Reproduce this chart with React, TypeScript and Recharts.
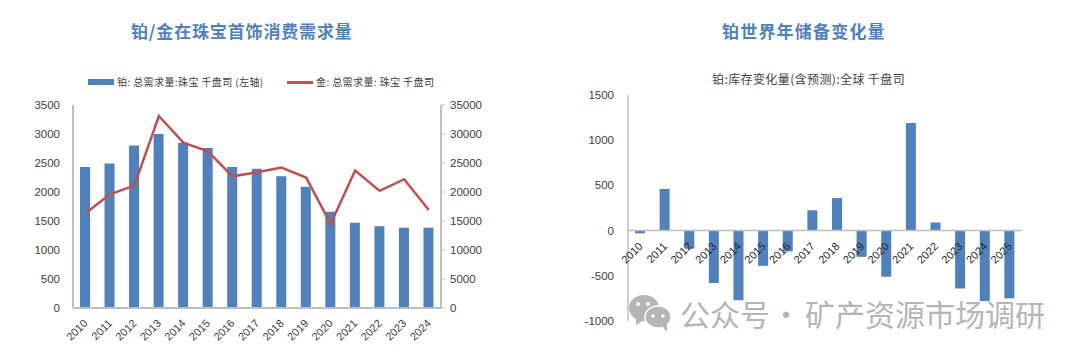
import { Bar, ComposedChart, Legend, Line, ReferenceLine, XAxis, YAxis } from 'recharts';

const leftYears = ['2010', '2011', '2012', '2013', '2014', '2015', '2016', '2017', '2018', '2019', '2020', '2021', '2022', '2023', '2024'];
const platinumJewellery = [2430, 2490, 2800, 3000, 2850, 2760, 2430, 2400, 2270, 2090, 1660, 1470, 1410, 1385, 1385];
const goldJewellery = [16300, 19600, 21100, 33100, 28500, 27000, 22700, 23400, 24200, 22500, 14500, 23700, 20200, 22200, 16900];

const rightYears = ['2010', '2011', '2012', '2013', '2014', '2015', '2016', '2017', '2018', '2019', '2020', '2021', '2022', '2023', '2024', '2025'];
const stockChange = [-30, 460, -200, -580, -770, -390, -230, 225, 360, -290, -510, 1190, 90, -640, -780, -750];

const leftTicks = [0, 500, 1000, 1500, 2000, 2500, 3000, 3500];
const rightAxisTicks = [0, 5000, 10000, 15000, 20000, 25000, 30000, 35000];
const stockTicks = [-1000, -500, 0, 500, 1000, 1500];

const leftData = leftYears.map((year, i) => ({ year, platinum: platinumJewellery[i], gold: goldJewellery[i] }));
const rightData = rightYears.map((year, i) => ({ year, change: stockChange[i] }));

const BLUE = '#4f81bd';
const RED = '#c0504d';
const AXIS = '#bfbfbf';
const LABEL = '#404040';
const CJK = '"Noto Sans CJK SC", sans-serif';
const LATIN = '"Liberation Sans", Arial, sans-serif';

const tickStyle = { fontSize: 11.5, fontFamily: LATIN, fill: LABEL };

// rotated year labels, shift moves them up from the axis bottom to the zero line
function YearTick({ x, y, payload, shift = 0, color = LABEL }: any) {
    return (
        <text
            x={x + 3}
            y={y - shift + 8}
            textAnchor="end"
            fontSize={11}
            fontFamily={LATIN}
            fill={color}
            transform={`rotate(-45 ${x + 3} ${y - shift + 8})`}
        >
            {payload.value}
        </text>
    );
}

function LeftLegend() {
    const text = { position: 'absolute', top: 0, fontSize: 10, lineHeight: '14px', fontFamily: CJK, color: '#404040', whiteSpace: 'nowrap', letterSpacing: 0.4 } as const;
    return (
        <div style={{ position: 'relative', width: 540, height: 14 }}>
            <div style={{ position: 'absolute', left: 88, top: 4, width: 26, height: 6, background: BLUE }} />
            <div style={text as any}><span style={{ marginLeft: 117 }}>铂: 总需求量:珠宝 千盘司 (左轴)</span></div>
            <div style={{ position: 'absolute', left: 287, top: 6, width: 26, height: 2.5, background: RED }} />
            <div style={text as any}><span style={{ marginLeft: 316 }}>金: 总需求量: 珠宝 千盘司</span></div>
        </div>
    );
}

function Heading({ left, top, size, color, spacing = 0, bold, children }: any) {
    return (
        <div
            style={{
                position: 'absolute',
                left,
                top,
                fontSize: size,
                lineHeight: `${size + 4}px`,
                color,
                letterSpacing: spacing,
                fontWeight: bold ? 700 : 400,
                fontFamily: CJK,
                whiteSpace: 'nowrap',
            }}
        >
            {children}
        </div>
    );
}

export default function App() {
    return (
        <div style={{ position: 'absolute', left: 0, top: 0, width: 1080, height: 357, background: '#fff', overflow: 'hidden' }}>
            <Heading left={131} top={20} size={17} spacing={0.85} color={BLUE} bold>铂/金在珠宝首饰消费需求量</Heading>
            <Heading left={722} top={20} size={17} spacing={1.2} color={BLUE} bold>铂世界年储备变化量</Heading>
            <Heading left={712} top={71} size={12} spacing={0.4} color="#404040">铂:库存变化量(含预测):全球 千盘司</Heading>

            <div style={{ position: 'absolute', left: 0, top: 0 }}>
                <ComposedChart
                    width={540}
                    height={357}
                    data={leftData}
                    margin={{ top: 91, right: 0, bottom: 0, left: 0 }}
                >
                    <XAxis
                        dataKey="year"
                        interval={0}
                        height={49}
                        axisLine={{ stroke: AXIS, strokeWidth: 2 }}
                        tickLine={false}
                        tick={<YearTick />}
                    />
                    <YAxis
                        yAxisId="left"
                        domain={[0, 3500]}
                        ticks={leftTicks}
                        width={73}
                        axisLine={{ stroke: AXIS, strokeWidth: 2 }}
                        tickLine={false}
                        tick={tickStyle}
                        tickMargin={7}
                    />
                    <YAxis
                        yAxisId="right"
                        orientation="right"
                        domain={[0, 35000]}
                        ticks={rightAxisTicks}
                        width={99}
                        axisLine={{ stroke: AXIS, strokeWidth: 2 }}
                        tickLine={{ stroke: AXIS }}
                        tickSize={4}
                        tick={{ ...tickStyle, textAnchor: 'start' }}
                        tickMargin={5}
                    />
                    <Legend verticalAlign="top" content={<LeftLegend />} wrapperStyle={{ left: 0, top: 75, width: 540 }} />
                    <Bar yAxisId="left" dataKey="platinum" name="铂: 总需求量:珠宝 千盘司 (左轴)" fill={BLUE} barSize={10} isAnimationActive={false} />
                    <Line yAxisId="right" dataKey="gold" name="金: 总需求量: 珠宝 千盘司" type="linear" stroke={RED} strokeWidth={2.5} dot={false} isAnimationActive={false} />
                </ComposedChart>
            </div>

            <div style={{ position: 'absolute', left: 540, top: 0 }}>
                <ComposedChart
                    width={540}
                    height={357}
                    data={rightData}
                    margin={{ top: 95, right: 58, bottom: 0, left: 0 }}
                >
                    <XAxis
                        dataKey="year"
                        interval={0}
                        height={36}
                        axisLine={false}
                        tickLine={false}
                        tick={<YearTick shift={90} color="#262626" />}
                    />
                    <YAxis
                        domain={[-1000, 1500]}
                        ticks={stockTicks}
                        width={88}
                        axisLine={{ stroke: AXIS, strokeWidth: 1.5 }}
                        tickLine={false}
                        tick={tickStyle}
                        tickMargin={8}
                    />
                    <ReferenceLine y={0} stroke={AXIS} strokeWidth={1.5} />
                    <Bar dataKey="change" name="铂:库存变化量(含预测):全球 千盘司" fill={BLUE} barSize={10} isAnimationActive={false} />
                </ComposedChart>
            </div>

            {/* watermark */}
            <svg style={{ position: 'absolute', left: 628, top: 291 }} width={50} height={46}>
                <ellipse cx={16} cy={17} rx={15} ry={13} fill="#b5b5b5" />
                <path d="M8 27 L8 34 L16 29 Z" fill="#b5b5b5" />
                <ellipse cx={30} cy={26} rx={13} ry={11} fill="#b5b5b5" stroke="#fff" strokeWidth={1.5} />
                <path d="M34 35 L39 41 L39 33 Z" fill="#b5b5b5" />
                <circle cx={10} cy={13} r={2} fill="#fff" />
                <circle cx={20} cy={13} r={2} fill="#fff" />
                <circle cx={25} cy={25} r={1.8} fill="#fff" />
                <circle cx={35} cy={25} r={1.8} fill="#fff" />
            </svg>
            <Heading left={680} top={296} size={30} color="#b5b5b5">公众号</Heading>
            <Heading left={771} top={296} size={30} color="#b5b5b5">·</Heading>
            <Heading left={805} top={296} size={30} color="#b5b5b5">矿产资源市场调研</Heading>
        </div>
    );
}
